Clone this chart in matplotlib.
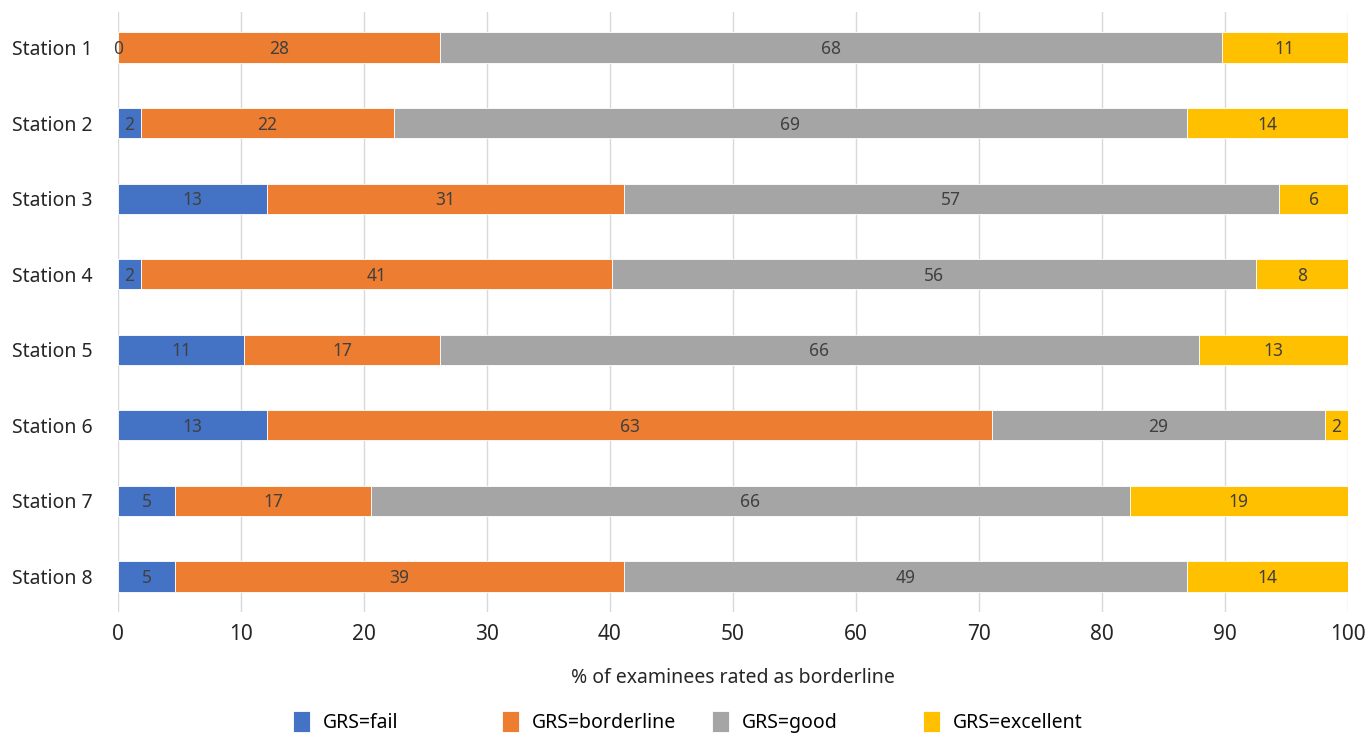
import matplotlib
matplotlib.use("Agg")
import matplotlib.pyplot as plt
import numpy as np

plt.rcParams['font.family'] = ['Noto Sans', 'DejaVu Sans']

stations = ["Station 1", "Station 2", "Station 3", "Station 4",
            "Station 5", "Station 6", "Station 7", "Station 8"]
fail = [0, 2, 13, 2, 11, 13, 5, 5]
borderline = [28, 22, 31, 41, 17, 63, 17, 39]
good = [68, 69, 57, 56, 66, 29, 66, 49]
excellent = [11, 14, 6, 8, 13, 2, 19, 14]
series_names = ["GRS=fail", "GRS=borderline", "GRS=good", "GRS=excellent"]
colors = ["#4472C4", "#ED7D31", "#A5A5A5", "#FFC000"]

counts = np.array([fail, borderline, good, excellent], dtype=float)
totals = counts.sum(axis=0)
pct = counts / totals * 100

fig = plt.figure(figsize=(13.68, 7.34), dpi=100)
ax = fig.add_axes([118/1368, 1 - 612/734, (1348-118)/1368, (612-12)/734])

y = np.arange(len(stations))
left = np.zeros(len(stations))
handles = []
for i in range(4):
    bars = ax.barh(y, pct[i], left=left, height=0.4, color=colors[i],
                   edgecolor="white", linewidth=0.6, label=series_names[i], zorder=3)
    handles.append(bars)
    for j in range(len(stations)):
        ax.text(left[j] + pct[i][j] / 2, y[j] + 0.02, f"{int(counts[i][j])}",
                ha="center", va="center", fontsize=12.5, color="#404040", zorder=4)
    left += pct[i]

ax.set_ylim(7.47, -0.47)
ax.set_xlim(0, 100)
ax.set_xticks(np.arange(0, 101, 10))
ax.set_yticks(y)
ax.set_yticklabels(stations, fontsize=14, color="#262626")
ax.tick_params(axis="x", labelsize=15, colors="#262626", length=0, pad=9)
ax.tick_params(axis="y", length=0, pad=18)
ax.grid(axis="x", color="#D9D9D9", linewidth=1, zorder=0)
for s in ax.spines.values():
    s.set_visible(False)
ax.set_xlabel("% of examinees rated as borderline", fontsize=14, color="#262626", labelpad=16)

leg_x = [293, 502, 712, 923]
for h, name, lx in zip(handles, series_names, leg_x):
    fig.legend(handles=[h], labels=[name], loc="center left",
               bbox_to_anchor=(lx/1368, 1 - 722/734), frameon=False, fontsize=14,
               handlelength=0.85, handleheight=1.3, handletextpad=0.7,
               borderpad=0, borderaxespad=0)

fig.savefig("out.png", dpi=100)
